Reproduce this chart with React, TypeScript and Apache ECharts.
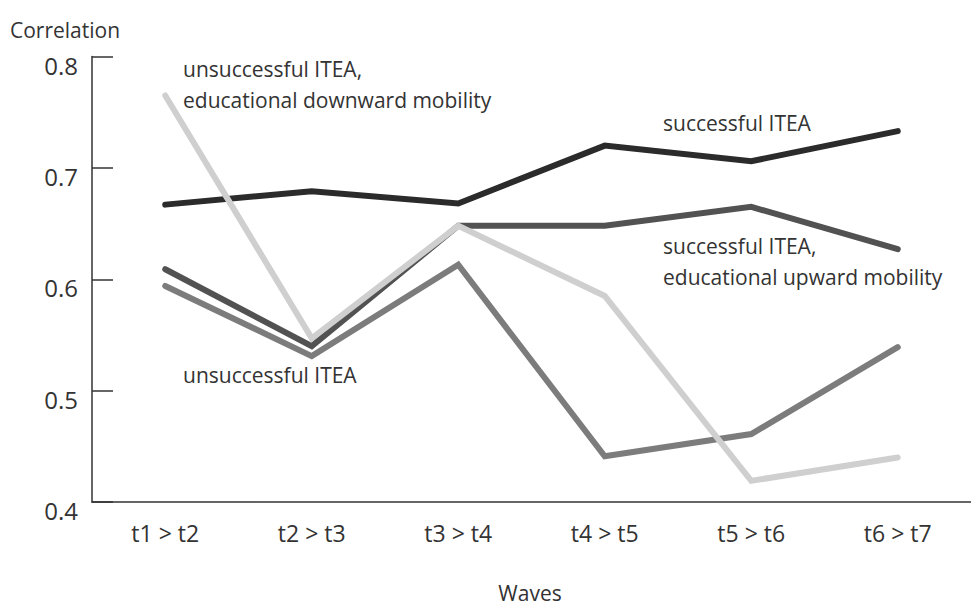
import React, { useEffect, useRef } from "react";
import * as echarts from "echarts";

const waves = ["t1 > t2", "t2 > t3", "t3 > t4", "t4 > t5", "t5 > t6", "t6 > t7"];
const successful = [0.667, 0.679, 0.668, 0.72, 0.706, 0.733];
const successfulUpward = [0.609, 0.54, 0.648, 0.648, 0.665, 0.627];
const unsuccessful = [0.594, 0.531, 0.613, 0.441, 0.461, 0.539];
const unsuccessfulDownward = [0.765, 0.547, 0.648, 0.585, 0.419, 0.44];
const yTicks = [0.4, 0.5, 0.6, 0.7, 0.8];

const FONT = "'Open Sans', 'DejaVu Sans', sans-serif";
const TXT = "#333";

export default function App() {
  const ref = useRef<HTMLDivElement>(null);
  useEffect(() => {
    if (!ref.current) return;
    const chart = echarts.init(ref.current, undefined, { renderer: "svg" });
    const mk = (name: string, data: number[], color: string) => ({
      name,
      type: "line",
      data,
      symbol: "none",
      lineStyle: { color, width: 6, cap: "round", join: "miter" },
      z: 2,
    });
    const annot = (text: string, x: number, y: number) => ({
      type: "text",
      x,
      y,
      style: {
        text,
        font: `21px ${FONT}`,
        fill: TXT,
        textVerticalAlign: "middle",
        lineHeight: 31,
      },
    });
    chart.setOption({
      animation: false,
      backgroundColor: "#fff",
      grid: { left: 92, top: 56.5, bottom: 104, right: -11, containLabel: false },
      xAxis: {
        type: "category",
        data: waves,
        boundaryGap: true,
        axisLine: { lineStyle: { color: TXT, width: 1.5 } },
        axisTick: { inside: true, length: 10, lineStyle: { color: TXT, width: 1.5 } },
        axisLabel: { fontSize: 23, fontFamily: FONT, color: TXT, margin: 19 },
        splitLine: { show: false },
      },
      yAxis: {
        type: "value",
        min: yTicks[0],
        max: yTicks[yTicks.length - 1],
        interval: 0.1,
        axisLine: { show: true, lineStyle: { color: TXT, width: 1.5 } },
        axisTick: { show: true, inside: true, length: 21, lineStyle: { color: TXT, width: 1.5 } },
        axisLabel: {
          fontSize: 24,
          fontFamily: FONT,
          color: TXT,
          margin: 14,
          verticalAlign: "top",
          lineHeight: 17,
          formatter: (v: number) => v.toFixed(1),
        },
        splitLine: { show: false },
      },
      series: [
        mk("successful ITEA", successful, "#2b2b2b"),
        mk("successful ITEA, educational upward mobility", successfulUpward, "#525252"),
        mk("unsuccessful ITEA", unsuccessful, "#7c7c7c"),
        mk("unsuccessful ITEA, educational downward mobility", unsuccessfulDownward, "#cfcfcf"),
      ],
      graphic: [
        { type: "text", x: 10, y: 30, style: { text: "Correlation", font: `21px ${FONT}`, fill: TXT, textVerticalAlign: "middle" } },
        { type: "text", x: 530, y: 593, style: { text: "Waves", font: `21px ${FONT}`, fill: TXT, textAlign: "center", textVerticalAlign: "middle" } },
        annot("unsuccessful ITEA,\neducational downward mobility", 183, 84),
        annot("successful ITEA", 663, 123),
        annot("successful ITEA,\neducational upward mobility", 663, 261),
        annot("unsuccessful ITEA", 183, 375),
      ],
    });
    return () => chart.dispose();
  }, []);
  return <div ref={ref} style={{ position: "absolute", left: 0, top: 0, width: 971, height: 606 }} />;
}
